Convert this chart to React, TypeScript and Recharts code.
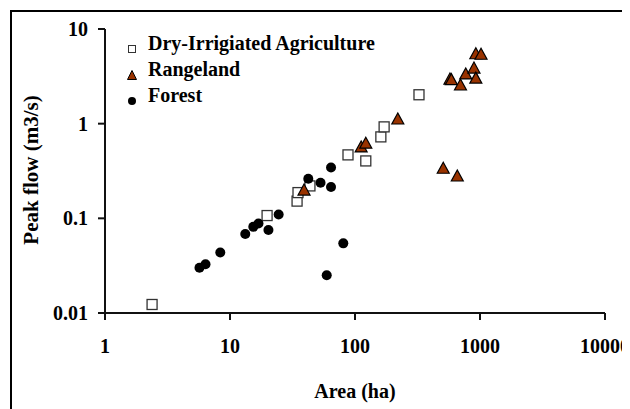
import React from "react";
import {
  ScatterChart,
  Scatter,
  XAxis,
  YAxis,
  ReferenceLine,
  Customized,
} from "recharts";

// ---- Data ----
const agriArea = [2.38, 19.8, 34.4, 35.0, 43.6, 87.9, 122, 161, 171, 325];
const agriFlow = [0.0123, 0.107, 0.152, 0.187, 0.22, 0.468, 0.404, 0.725, 0.925, 2.02];

const rangeArea = [39.1, 112, 122, 220, 508, 658, 575, 590, 698, 769, 895, 926, 926, 1019];
const rangeFlow = [0.199, 0.568, 0.622, 1.12, 0.338, 0.28, 2.96, 2.92, 2.56, 3.35, 3.87, 3.03, 5.48, 5.41];

const forestArea = [5.7, 6.37, 8.36, 13.25, 15.36, 16.9, 20.3, 24.5, 42.3, 53.0, 64.3, 64.3, 59.4, 80.6];
const forestFlow = [0.03, 0.0328, 0.0435, 0.0682, 0.0813, 0.0881, 0.0752, 0.11, 0.262, 0.238, 0.214, 0.345, 0.0251, 0.0544];

const xTicks = [1, 10, 100, 1000, 10000];
const yTicks = [0.01, 0.1, 1, 10];

const seriesNames = ["Dry-Irrigiated Agriculture", "Rangeland", "Forest"];
const xTitle = "Area (ha)";
const yTitle = "Peak flow (m3/s)";

const zip = (xs: number[], ys: number[]) => xs.map((x, i) => ({ x, y: ys[i] }));
const agriData = zip(agriArea, agriFlow);
const rangeData = zip(rangeArea, rangeFlow);
const forestData = zip(forestArea, forestFlow);

const FONT = '"Liberation Serif", "Times New Roman", Tinos, serif';
const BROWN = "#993300";

const CHART_W = 622;
const CHART_H = 401;

const SquareShape = (props: any) => {
  const { cx, cy } = props;
  return (
    <rect x={cx - 5} y={cy - 5} width={10} height={10} fill="#fff" stroke="#333" strokeWidth={1.3} />
  );
};

const TriangleShape = (props: any) => {
  const { cx, cy } = props;
  const pts = `${cx},${cy - 6} ${cx - 6},${cy + 5} ${cx + 6},${cy + 5}`;
  return <polygon points={pts} fill={BROWN} stroke="#000" strokeWidth={1.2} />;
};

const CircleShape = (props: any) => {
  const { cx, cy } = props;
  return <circle cx={cx} cy={cy} r={5} fill="#000" />;
};

const FrameAndTitles = () => (
  <g>
    <path d={`M 3 ${CHART_H} L 3 3 L ${CHART_W} 3`} fill="none" stroke="black" strokeWidth={2} />
    <text x={347} y={390} textAnchor="middle" fontFamily={FONT} fontWeight="bold" fontSize={20} fill="black">
      {xTitle}
    </text>
    <text
      x={30}
      y={162}
      transform="rotate(-90 30 162)"
      textAnchor="middle"
      fontFamily={FONT}
      fontWeight="bold"
      fontSize={21}
      fill="black"
    >
      {yTitle}
    </text>
  </g>
);

const tickStyle = { fontFamily: FONT, fontWeight: "bold", fontSize: 20, fill: "black" } as any;

const legendIcons = [
  <svg width={12} height={12} key="a"><rect x={2.5} y={2.5} width={7} height={7} fill="#fff" stroke="#333" strokeWidth={1} /></svg>,
  <svg width={12} height={12} key="b"><polygon points="6,1.5 1.5,10.5 10.5,10.5" fill={BROWN} stroke="#000" strokeWidth={1} /></svg>,
  <svg width={12} height={12} key="c"><circle cx={6} cy={6} r={4} fill="#000" /></svg>,
];

export default function App() {
  return (
    <div style={{ position: "relative", width: CHART_W, height: CHART_H }}>
      <ScatterChart width={CHART_W} height={CHART_H} margin={{ top: 21, right: 25, bottom: 0, left: 0 }}>
        <Customized component={FrameAndTitles} />
        <XAxis
          type="number"
          dataKey="x"
          scale="log"
          domain={[1, 10000]}
          ticks={xTicks}
          height={96}
          tickSize={7}
          tickMargin={19}
          tick={tickStyle}
          stroke="#111"
          strokeWidth={2}
        />
        <YAxis
          type="number"
          dataKey="y"
          scale="log"
          domain={[0.01, 10]}
          ticks={yTicks}
          width={97}
          tickSize={7}
          tickMargin={10}
          tick={tickStyle}
          tickFormatter={(v: number) => String(v)}
          axisLine={{ stroke: "#111", strokeWidth: 2 }}
          tickLine={{ stroke: "#111", strokeWidth: 2 }}
        />
        <ReferenceLine x={1} stroke="#111" strokeWidth={2} />
        <ReferenceLine y={0.01} stroke="#111" strokeWidth={2} />
        <Scatter name={seriesNames[0]} data={agriData} shape={SquareShape} isAnimationActive={false} />
        <Scatter name={seriesNames[1]} data={rangeData} shape={TriangleShape} isAnimationActive={false} />
        <Scatter name={seriesNames[2]} data={forestData} shape={CircleShape} isAnimationActive={false} />
      </ScatterChart>
      <div
        style={{
          position: "absolute",
          left: 118,
          top: 22,
          fontFamily: FONT,
          fontWeight: "bold",
          fontSize: 20,
          color: "#000",
        }}
      >
        {seriesNames.map((name, i) => (
          <div key={name} style={{ display: "flex", alignItems: "center", height: 26, whiteSpace: "nowrap" }}>
            <span style={{ width: 12, height: 12, display: "inline-block", marginRight: 10 }}>{legendIcons[i]}</span>
            <span>{name}</span>
          </div>
        ))}
      </div>
    </div>
  );
}
